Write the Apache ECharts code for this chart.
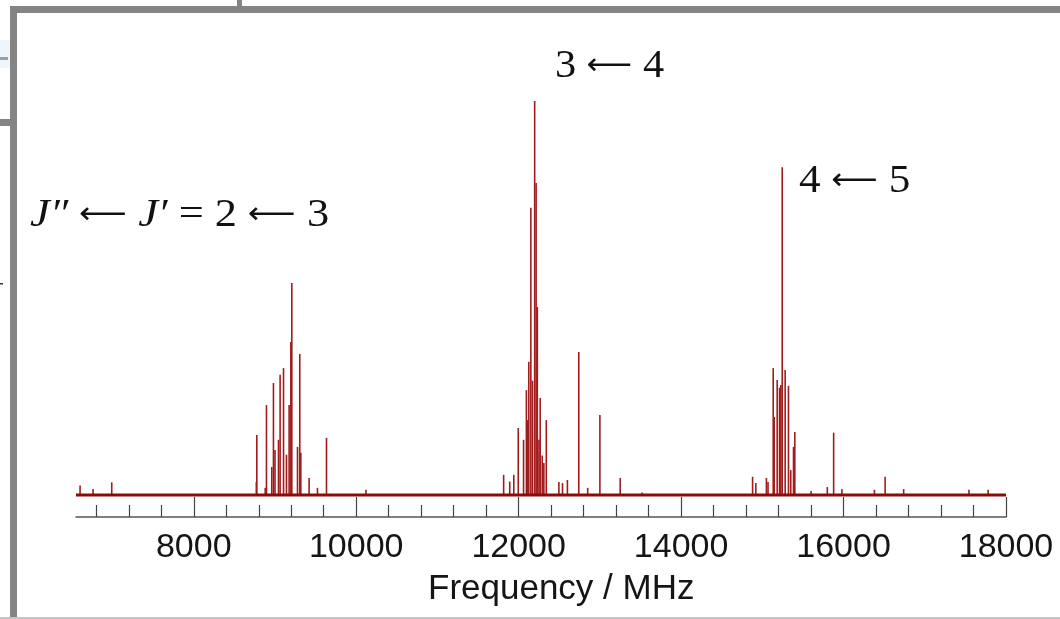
<!DOCTYPE html>
<html>
<head>
<meta charset="utf-8">
<title>Rotational spectrum</title>
<script src="https://cdn.jsdelivr.net/npm/echarts@6/dist/echarts.min.js"></script>
<style>
  html, body { margin: 0; padding: 0; background: #fff; }
  #main { width: 1060px; height: 619px; }
</style>
</head>
<body>
<div id="main"></div>
<script>
// stick lines: [frequency MHz, relative intensity]
var band23 = [
    [8770, 3.3], [8776, 15.2], [8880, 1.8], [8895, 22.8], [8960, 7.1], [8981, 28.4],
    [9000, 11.4], [9043, 14.0], [9063, 30.5], [9105, 32.2], [9141, 10.2], [9174, 22.8],
    [9195, 38.8], [9207, 53.8], [9277, 12.2], [9305, 35.8], [9318, 10.7], [9420, 4.3],
    [9523, 1.8], [9634, 14.5]
];
var band34 = [
    [11815, 5.1], [11890, 3.4], [11940, 5.1], [11995, 17.0], [12060, 14.0], [12095, 26.6],
    [12110, 19.0], [12125, 33.8], [12150, 72.9], [12170, 29.0], [12197, 100], [12215, 79.2],
    [12230, 47.7], [12250, 14.0], [12265, 24.6], [12290, 10.0], [12310, 8.1], [12340, 19.0],
    [12495, 3.3], [12540, 3.0], [12600, 3.8], [12740, 36.3], [12850, 1.8], [13000, 20.3],
    [13250, 4.3]
];
var band45 = [
    [14880, 4.6], [14920, 3.0], [15050, 4.3], [15070, 3.3], [15134, 32.2], [15146, 19.8],
    [15183, 29.2], [15212, 27.2], [15228, 27.9], [15245, 83.2], [15281, 31.7], [15322, 27.7],
    [15350, 6.3], [15384, 12.2], [15400, 16.0], [15600, 1.0], [15800, 2.0], [15878, 15.8],
    [15980, 1.5]
];
var weakLines = [
    [6600, 2.4], [6760, 1.5], [6990, 3.2], [10120, 1.3], [13520, 0.6],
    [16380, 1.3], [16512, 4.6], [16740, 1.5], [17544, 1.3], [17780, 1.3]
];
var baseline = [[6550, 0], [18000, 0]];
var majorTicks = [8000, 10000, 12000, 14000, 16000, 18000];
var minorTicks = [6800, 7200, 7600, 8400, 8800, 9200, 9600, 10400, 10800, 11200, 11600,
    12400, 12800, 13200, 13600, 14400, 14800, 15200, 15600, 16400, 16800, 17200, 17600];

var myChart = echarts.init(document.getElementById('main'));

var sticks = band23.concat(band34, band45, weakLines);

var serif = '"Liberation Serif", "Times New Roman", serif';
var sans = '"Liberation Sans", Arial, sans-serif';
var labelRich = {
    i: { fontStyle: 'italic', fontSize: 40, fontFamily: serif, fill: '#111' },
    a: { fontSize: 30, fontFamily: '"DejaVu Sans"', fill: '#111' }
};

var option = {
    animation: false,
    backgroundColor: '#fff',
    grid: { left: 76, right: 54, top: 101, bottom: 102 },
    xAxis: [{
        type: 'value',
        min: 6550,
        max: 18000,
        position: 'bottom',
        axisLine: { show: true, onZero: false, lineStyle: { color: '#555', width: 1.5 } },
        axisTick: { show: true, inside: true, length: 20, customValues: majorTicks,
            lineStyle: { color: '#444', width: 1.2 } },
        axisLabel: { customValues: majorTicks, margin: 14, fontSize: 34,
            fontFamily: sans, color: '#151515',
            formatter: function (v) { return String(v); } },
        splitLine: { show: false }
    }, {
        type: 'value',
        min: 6550,
        max: 18000,
        position: 'bottom',
        axisLine: { show: false, onZero: false },
        axisTick: { show: true, inside: true, length: 12, customValues: minorTicks,
            lineStyle: { color: '#444', width: 1.2 } },
        axisLabel: { show: false },
        splitLine: { show: false }
    }],
    yAxis: { type: 'value', min: -5.6, max: 100, show: false },
    series: [{
        type: 'line',
        data: baseline,
        symbol: 'none',
        lineStyle: { color: '#8b0a0a', width: 3 },
        z: 3
    }, {
        type: 'custom',
        data: sticks,
        encode: { x: 0, y: 1 },
        renderItem: function (params, api) {
            var p0 = api.coord([api.value(0), 0]);
            var p1 = api.coord([api.value(0), api.value(1)]);
            return {
                type: 'line',
                shape: { x1: p0[0], y1: p0[1], x2: p1[0], y2: p1[1] },
                style: { stroke: '#a01c1c', lineWidth: 1.6 }
            };
        },
        z: 2
    }],
    graphic: [
        // window frame
        { type: 'rect', shape: { x: 10, y: 6, width: 1050, height: 7 }, style: { fill: '#848484' } },
        { type: 'rect', shape: { x: 10, y: 6, width: 7, height: 613 }, style: { fill: '#848484' } },
        { type: 'rect', shape: { x: 237, y: 0, width: 5, height: 6 }, style: { fill: '#848484' } },
        { type: 'rect', shape: { x: 0, y: 119, width: 10, height: 7 }, style: { fill: '#848484' } },
        { type: 'rect', shape: { x: 0, y: 40, width: 10, height: 28 }, style: { fill: '#eef6fb' } },
        { type: 'rect', shape: { x: 0, y: 57, width: 8, height: 3 }, style: { fill: '#8fa3b5' } },
        { type: 'rect', shape: { x: 0, y: 283, width: 3, height: 1.5 }, style: { fill: '#333' } },
        { type: 'rect', shape: { x: 0, y: 617, width: 1060, height: 2 }, style: { fill: '#c4c4c4' } },
        // band labels
        { type: 'text', x: 555, y: 46, scaleX: 1.06, style: {
            text: '3 {a|\u27F5} 4', fontSize: 40, fontFamily: serif, fill: '#111', rich: labelRich } },
        { type: 'text', x: 799, y: 161, scaleX: 1.08, style: {
            text: '4 {a|\u27F5} 5', fontSize: 40, fontFamily: serif, fill: '#111', rich: labelRich } },
        { type: 'text', x: 30, y: 195, scaleX: 1.11, style: {
            text: '{i|J\u2033} {a|\u27F5} {i|J\u2032} = 2 {a|\u27F5} 3', fontSize: 40,
            fontFamily: serif, fill: '#111', rich: labelRich } },
        // axis title
        { type: 'text', x: 428, y: 572, style: {
            text: 'Frequency / MHz', fontSize: 35, fontFamily: sans, fill: '#151515' } }
    ]
};

myChart.setOption(option);
</script>
</body>
</html>
